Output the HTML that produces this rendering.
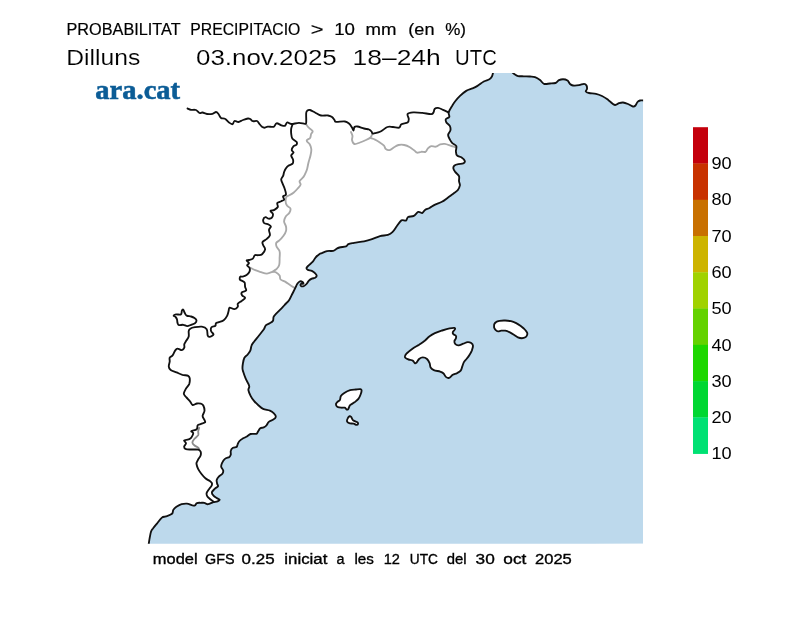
<!DOCTYPE html>
<html><head><meta charset="utf-8"><title>Probabilitat precipitacio</title>
<style>
html,body{margin:0;padding:0;background:#fff;}
body{width:800px;height:617px;overflow:hidden;font-family:"Liberation Sans",sans-serif;}
svg{display:block;will-change:transform;}
text{font-family:"Liberation Sans",sans-serif;fill:#000;}
</style></head><body>
<svg width="800" height="617" viewBox="0 0 800 617">
<rect width="800" height="617" fill="#fff"/>
<defs><clipPath id="mapclip"><rect x="100" y="73" width="543.1" height="470.75"/></clipPath></defs>
<g clip-path="url(#mapclip)">
<path d="M493.1,72.5 C492.9,73.2 492.5,75.4 491.9,76.5 C491.3,77.6 490.8,78.4 489.4,79.2 C488.0,80.1 485.7,80.4 483.8,81.5 C481.8,82.6 479.4,84.8 477.5,85.9 C475.6,87.1 474.4,87.6 472.5,88.4 C470.6,89.2 468.3,89.7 466.2,90.9 C464.2,92.2 461.9,94.1 460.0,95.9 C458.1,97.7 456.3,99.8 455.0,101.5 C453.7,103.2 453.2,104.0 452.2,105.8 C451.1,107.6 449.2,110.4 448.7,112.3 C448.2,114.2 449.8,115.8 449.3,116.9 C448.8,118.0 446.4,118.2 445.9,119.1 C445.4,120.0 445.8,121.4 446.4,122.5 C447.0,123.6 449.1,124.6 449.8,125.9 C450.5,127.2 450.7,128.9 450.4,130.4 C450.1,131.9 448.2,133.4 448.1,134.9 C448.0,136.4 449.1,138.0 449.8,139.4 C450.5,140.8 451.2,142.0 452.3,143.1 C453.4,144.2 455.7,144.8 456.3,146.2 C456.9,147.6 455.7,150.0 455.9,151.6 C456.0,153.2 456.2,154.6 457.2,155.6 C458.2,156.6 460.3,156.5 461.6,157.4 C462.9,158.3 464.5,159.9 464.8,160.9 C465.1,161.9 464.4,162.8 463.4,163.3 C462.3,163.9 460.0,163.8 458.5,164.1 C457.0,164.4 455.4,164.7 454.5,165.4 C453.6,166.1 453.2,167.4 453.4,168.5 C453.5,169.6 454.5,170.8 455.4,172.1 C456.3,173.4 458.4,174.6 459.0,176.1 C459.6,177.6 458.9,179.4 459.0,181.0 C459.1,182.6 460.1,183.9 459.9,185.4 C459.6,187.0 458.6,189.1 457.6,190.3 C456.6,191.6 455.1,192.2 454.1,193.0 C453.1,193.8 452.5,194.2 451.4,195.0 C450.3,195.8 449.1,196.8 447.5,197.9 C445.9,199.0 444.0,200.7 441.9,201.8 C439.8,202.9 437.2,203.6 435.1,204.6 C433.0,205.6 431.2,207.1 429.5,208.0 C427.8,208.9 426.2,209.2 425.0,210.0 C423.8,210.8 423.3,212.8 422.2,213.1 C421.1,213.4 419.7,211.4 418.2,211.9 C416.8,212.4 415.4,215.1 413.8,215.9 C412.1,216.8 409.4,216.2 408.1,217.0 C406.8,217.8 407.0,220.0 405.9,220.6 C404.8,221.2 402.9,219.5 401.4,220.4 C399.9,221.3 398.4,224.0 396.9,226.0 C395.4,228.0 393.9,230.7 392.4,232.2 C390.9,233.7 390.0,234.2 387.9,234.8 C385.8,235.5 382.6,235.4 380.0,236.1 C377.4,236.8 374.6,238.2 372.0,239.1 C369.4,240.0 367.1,240.7 364.1,241.3 C361.1,241.9 356.6,242.3 354.0,242.8 C351.4,243.3 349.7,243.5 348.4,244.1 C347.1,244.7 347.6,245.8 346.1,246.4 C344.6,247.0 341.1,247.0 339.4,247.5 C337.7,248.0 337.0,248.6 336.0,249.2 C335.0,249.8 334.7,250.6 333.2,250.9 C331.7,251.2 328.9,250.7 327.0,251.1 C325.1,251.5 323.1,252.6 321.9,253.1 C320.7,253.6 320.6,253.2 319.6,253.9 C318.6,254.6 316.8,256.0 315.7,257.3 C314.6,258.6 314.0,260.3 312.8,261.7 C311.6,263.1 309.4,264.6 308.4,265.6 C307.3,266.7 306.6,267.3 306.5,268.0 C306.4,268.7 307.0,269.4 307.9,269.9 C308.8,270.4 310.6,270.3 311.8,270.9 C313.0,271.5 314.4,272.5 315.2,273.3 C316.0,274.1 316.7,275.1 316.7,275.8 C316.7,276.5 316.0,277.2 315.2,277.7 C314.4,278.2 312.9,278.2 311.8,278.7 C310.8,279.2 309.8,279.7 308.9,280.6 C308.0,281.5 307.3,283.1 306.5,284.0 C305.7,284.9 304.8,285.6 304.0,286.0 C303.2,286.4 302.2,286.5 301.6,286.3 C301.0,286.1 300.4,285.4 300.4,285.0 C300.4,284.6 300.9,283.8 301.4,283.6 C301.9,283.4 303.2,284.1 303.4,283.8 C303.6,283.5 303.2,282.4 302.6,282.0 C302.0,281.6 300.9,281.1 300.0,281.3 C299.1,281.6 298.3,282.4 297.5,283.5 C296.7,284.6 296.1,286.2 295.3,287.9 C294.5,289.6 293.5,291.5 292.5,293.5 C291.5,295.5 290.4,298.2 289.2,300.0 C288.0,301.8 286.7,302.7 285.5,304.0 C284.3,305.3 283.6,306.2 282.0,307.8 C280.4,309.4 277.6,312.1 276.2,313.6 C274.8,315.1 274.1,315.7 273.6,316.9 C273.1,318.1 273.6,319.6 273.0,320.7 C272.4,321.8 270.9,322.5 269.7,323.3 C268.5,324.1 266.8,324.3 265.8,325.3 C264.8,326.3 265.0,327.6 263.9,329.2 C262.8,330.8 261.0,332.9 259.4,335.0 C257.8,337.1 255.5,339.8 254.2,341.5 C252.9,343.2 252.2,343.9 251.6,345.4 C250.9,346.9 251.0,349.1 250.3,350.6 C249.7,352.1 248.7,353.3 247.7,354.5 C246.7,355.7 245.2,356.2 244.4,357.7 C243.6,359.2 243.2,361.7 242.9,363.5 C242.6,365.3 242.4,367.3 242.5,368.7 C242.6,370.1 242.8,370.4 243.3,372.0 C243.8,373.6 244.7,376.2 245.5,378.2 C246.3,380.2 247.8,382.5 248.4,383.9 C249.0,385.3 249.3,385.7 249.3,386.8 C249.3,387.8 248.2,388.6 248.4,390.1 C248.6,391.7 249.7,394.0 250.6,395.8 C251.5,397.6 252.7,399.3 254.0,400.9 C255.3,402.5 257.1,404.2 258.6,405.5 C260.1,406.8 261.2,408.0 263.1,408.9 C265.0,409.8 268.1,409.9 269.9,410.6 C271.7,411.4 272.9,412.4 273.9,413.4 C274.9,414.4 275.9,415.8 275.8,416.8 C275.7,417.8 274.5,418.8 273.3,419.6 C272.1,420.5 269.9,421.0 268.8,421.9 C267.7,422.8 267.4,424.4 266.5,425.3 C265.6,426.2 264.7,426.9 263.7,427.4 C262.7,427.9 261.2,427.5 260.3,428.2 C259.4,428.9 258.7,430.7 258.0,431.6 C257.3,432.5 257.5,433.4 256.3,433.8 C255.1,434.2 252.3,433.5 250.6,434.0 C248.9,434.5 247.7,436.0 246.3,436.8 C244.9,437.6 243.5,438.1 242.4,438.8 C241.3,439.4 240.3,440.1 239.5,441.0 C238.7,441.9 238.0,443.3 237.6,444.3 C237.1,445.3 237.4,446.3 236.6,446.9 C235.8,447.4 234.0,447.2 233.0,447.8 C232.0,448.4 231.1,449.6 230.8,450.8 C230.4,451.9 231.0,453.6 230.8,454.6 C230.5,455.6 230.4,456.2 229.4,456.9 C228.5,457.6 226.1,457.8 224.9,458.9 C223.7,459.9 222.6,461.9 222.0,463.2 C221.4,464.5 221.0,465.7 221.2,466.9 C221.4,468.1 223.0,469.4 223.2,470.5 C223.4,471.6 223.1,472.8 222.4,473.8 C221.7,474.8 219.8,475.6 218.8,476.6 C217.9,477.6 217.0,478.8 216.7,479.9 C216.4,481.0 216.9,482.4 217.1,483.5 C217.3,484.6 218.4,485.4 218.0,486.3 C217.6,487.2 215.7,487.8 214.7,488.8 C213.7,489.8 212.1,491.2 211.9,492.4 C211.7,493.5 212.7,494.8 213.5,495.7 C214.3,496.6 215.7,497.4 216.7,498.1 C217.7,498.8 219.4,499.2 219.6,499.7 C219.8,500.2 218.6,500.9 217.6,501.3 C216.6,501.7 214.7,501.8 213.5,502.1 C212.3,502.5 211.4,503.0 210.3,503.4 C209.2,503.8 208.0,504.3 207.0,504.2 C206.0,504.1 205.4,503.0 204.3,502.8 C203.2,502.6 201.7,502.8 200.5,502.8 C199.3,502.8 197.9,502.6 196.9,503.1 C195.9,503.5 195.6,505.2 194.8,505.5 C193.9,505.8 193.0,505.4 191.7,505.1 C190.4,504.7 188.6,503.7 186.9,503.6 C185.2,503.5 183.3,503.7 181.6,504.2 C179.8,504.7 177.8,505.9 176.4,506.8 C175.0,507.8 174.0,508.7 173.3,509.9 C172.6,511.1 173.2,512.7 172.0,513.8 C170.8,514.9 167.6,515.8 165.9,516.4 C164.2,517.0 163.4,516.4 161.9,517.6 C160.4,518.8 158.6,521.5 157.1,523.4 C155.6,525.2 153.8,527.3 152.8,528.7 C151.7,530.1 151.5,530.2 151.0,531.8 C150.5,533.3 150.1,535.9 149.7,537.9 C149.3,539.9 149.0,542.2 148.8,543.5 C148.6,544.9 148.6,545.6 148.5,546.0 L643.1,543.75 L643.1,100.5 L646.0,100.5 C645.6,100.5 644.5,100.5 643.5,100.5 C642.5,100.5 641.0,100.2 640.0,100.5 C639.0,100.8 638.2,101.2 637.5,102.0 C636.8,102.8 636.2,104.8 635.5,105.5 C634.8,106.2 634.2,106.8 633.0,106.5 C631.8,106.2 629.7,104.7 628.0,104.0 C626.3,103.3 624.5,102.6 623.0,102.5 C621.5,102.4 620.3,102.8 619.0,103.2 C617.7,103.6 616.5,105.3 615.0,105.0 C613.5,104.7 611.3,102.5 610.0,101.5 C608.7,100.5 608.3,99.9 607.0,99.0 C605.7,98.1 603.8,96.9 602.0,96.0 C600.2,95.1 598.2,94.3 596.0,93.8 C593.8,93.3 590.7,93.4 589.0,93.0 C587.3,92.6 586.1,92.2 585.8,91.5 C585.5,90.8 586.9,90.0 587.0,89.0 C587.1,88.0 587.0,86.4 586.5,85.5 C586.0,84.6 585.2,83.8 584.0,83.8 C582.8,83.8 580.8,84.9 579.0,85.2 C577.2,85.5 574.5,85.7 573.0,85.5 C571.5,85.3 570.9,84.8 570.0,84.0 C569.1,83.2 568.7,81.3 567.5,80.5 C566.3,79.7 564.4,79.2 563.0,79.2 C561.6,79.2 560.2,79.6 559.0,80.2 C557.8,80.8 557.0,82.5 555.5,83.0 C554.0,83.5 551.9,83.4 550.0,83.5 C548.1,83.6 545.7,84.4 544.0,83.8 C542.3,83.2 541.5,81.1 540.0,80.0 C538.5,78.9 536.7,77.8 535.0,77.2 C533.3,76.6 531.9,76.7 530.0,76.5 C528.1,76.3 525.7,76.4 523.8,76.3 C521.8,76.2 519.6,76.4 518.1,76.1 C516.6,75.8 515.9,75.2 515.0,74.6 C514.1,74.0 512.9,72.8 512.5,72.5 L493.1,72.5 Z" fill="#bdd9ec"/>
<g fill="none" stroke="#a9a9a9" stroke-width="1.85" stroke-linejoin="round" stroke-linecap="round">
<path d="M306.2,124.3 C306.6,124.9 307.6,126.6 308.7,127.7 C309.8,128.8 312.2,130.0 312.6,131.1 C313.0,132.2 311.5,132.9 311.1,134.0 C310.7,135.1 310.8,136.8 310.1,137.9 C309.4,139.0 306.8,139.5 306.7,140.6 C306.6,141.7 308.9,142.9 309.7,144.3 C310.5,145.7 311.1,147.3 311.3,149.1 C311.5,150.9 311.0,152.9 310.6,155.0 C310.2,157.1 309.3,159.5 308.7,161.8 C308.1,164.1 307.6,166.9 307.2,168.6 C306.8,170.3 306.6,170.6 306.0,172.0 C305.4,173.4 304.6,175.4 303.5,176.9 C302.4,178.4 300.1,179.9 299.6,181.2 C299.2,182.5 300.9,183.4 300.6,184.6 C300.3,185.8 298.8,187.2 297.7,188.5 C296.6,189.8 295.2,191.3 293.8,192.4 C292.4,193.5 290.6,194.6 289.4,195.3 C288.2,196.0 287.1,195.8 286.5,196.8 C285.9,197.8 285.5,199.7 285.6,201.2 C285.6,202.7 286.2,204.3 287.0,205.6 C287.8,206.8 290.0,207.3 290.4,208.5 C290.8,209.7 290.2,211.4 289.4,212.8 C288.6,214.2 286.4,215.2 285.6,216.7 C284.7,218.2 284.0,220.0 284.1,221.6 C284.2,223.2 285.7,224.9 286.0,226.5 C286.3,228.1 286.4,229.4 286.0,230.9 C285.6,232.4 284.6,234.2 283.5,235.7 C282.4,237.2 280.9,238.9 279.6,240.1 C278.4,241.3 276.7,241.9 276.2,243.0 C275.8,244.1 276.1,245.5 276.7,246.9 C277.3,248.3 279.2,249.4 279.6,251.3 C280.1,253.2 279.7,255.8 279.6,258.1 C279.6,260.4 279.7,263.1 279.2,264.9 C278.7,266.7 277.8,267.7 276.7,268.8 C275.6,269.9 272.9,271.1 272.8,271.7 C272.7,272.3 274.7,271.5 275.8,272.2 C276.9,272.9 278.8,274.4 279.6,275.6 C280.4,276.8 279.6,278.4 280.6,279.5 C281.6,280.6 283.9,280.9 285.5,281.9 C287.1,282.9 288.8,284.3 290.4,285.3 C291.9,286.3 294.1,287.6 294.8,288.1"/>
<path d="M272.8,271.7 C271.8,272.0 268.9,273.6 267.0,273.6 C265.1,273.7 263.1,272.8 261.2,272.2 C259.2,271.6 257.1,271.0 255.3,270.2 C253.5,269.5 251.3,268.2 250.5,267.8"/>
<path d="M351.0,132.0 C351.2,132.7 352.3,134.7 352.5,136.0 C352.7,137.3 351.7,138.7 352.0,140.0 C352.3,141.3 353.2,143.6 354.5,144.0 C355.8,144.4 358.1,143.2 360.0,142.5 C361.9,141.8 364.2,140.8 366.0,140.0 C367.8,139.2 369.5,138.4 370.5,137.5 C371.5,136.6 371.8,135.0 372.0,134.5"/>
<path d="M370.5,138.0 C371.2,138.3 373.5,138.9 375.0,139.6 C376.5,140.3 378.0,141.2 379.5,142.2 C381.0,143.2 383.0,144.5 384.0,145.6 C385.0,146.7 384.8,148.2 385.7,148.9 C386.6,149.7 388.2,150.4 389.6,150.1 C391.0,149.8 392.6,148.1 394.1,147.2 C395.6,146.4 396.9,145.4 398.6,145.0 C400.3,144.6 402.4,144.6 404.2,145.0 C406.1,145.4 408.2,146.3 409.9,147.2 C411.6,148.2 413.2,149.7 414.4,150.6 C415.6,151.5 416.1,152.5 417.2,152.7 C418.3,152.8 419.7,151.9 421.1,151.8 C422.5,151.6 424.5,152.3 425.6,151.8 C426.7,151.2 427.0,149.3 427.9,148.4 C428.8,147.5 429.9,146.4 431.2,146.1 C432.6,145.8 434.2,147.0 435.8,146.7 C437.2,146.4 438.8,144.9 440.2,144.4 C441.8,143.9 443.1,143.7 444.8,143.9 C446.4,144.1 448.6,145.0 450.4,145.6 C452.2,146.2 454.6,147.0 455.4,147.2"/>
<path d="M199.2,427.8 C199.0,428.4 198.4,430.0 198.2,431.2 C198.0,432.4 198.8,433.8 198.2,435.1 C197.5,436.4 195.3,437.8 194.3,439.0 C193.3,440.2 192.4,441.3 192.4,442.4 C192.4,443.4 193.3,444.4 194.3,445.3 C195.3,446.2 197.4,447.0 198.2,447.7 C199.0,448.4 199.0,449.2 199.2,449.5" stroke="#8c8c8c"/>
</g>
<g fill="none" stroke="#111" stroke-width="1.85" stroke-linejoin="round" stroke-linecap="round">
<path d="M493.1,72.5 C492.9,73.2 492.5,75.4 491.9,76.5 C491.3,77.6 490.8,78.4 489.4,79.2 C488.0,80.1 485.7,80.4 483.8,81.5 C481.8,82.6 479.4,84.8 477.5,85.9 C475.6,87.1 474.4,87.6 472.5,88.4 C470.6,89.2 468.3,89.7 466.2,90.9 C464.2,92.2 461.9,94.1 460.0,95.9 C458.1,97.7 456.3,99.8 455.0,101.5 C453.7,103.2 453.2,104.0 452.2,105.8 C451.1,107.6 449.2,110.4 448.7,112.3 C448.2,114.2 449.8,115.8 449.3,116.9 C448.8,118.0 446.4,118.2 445.9,119.1 C445.4,120.0 445.8,121.4 446.4,122.5 C447.0,123.6 449.1,124.6 449.8,125.9 C450.5,127.2 450.7,128.9 450.4,130.4 C450.1,131.9 448.2,133.4 448.1,134.9 C448.0,136.4 449.1,138.0 449.8,139.4 C450.5,140.8 451.2,142.0 452.3,143.1 C453.4,144.2 455.7,144.8 456.3,146.2 C456.9,147.6 455.7,150.0 455.9,151.6 C456.0,153.2 456.2,154.6 457.2,155.6 C458.2,156.6 460.3,156.5 461.6,157.4 C462.9,158.3 464.5,159.9 464.8,160.9 C465.1,161.9 464.4,162.8 463.4,163.3 C462.3,163.9 460.0,163.8 458.5,164.1 C457.0,164.4 455.4,164.7 454.5,165.4 C453.6,166.1 453.2,167.4 453.4,168.5 C453.5,169.6 454.5,170.8 455.4,172.1 C456.3,173.4 458.4,174.6 459.0,176.1 C459.6,177.6 458.9,179.4 459.0,181.0 C459.1,182.6 460.1,183.9 459.9,185.4 C459.6,187.0 458.6,189.1 457.6,190.3 C456.6,191.6 455.1,192.2 454.1,193.0 C453.1,193.8 452.5,194.2 451.4,195.0 C450.3,195.8 449.1,196.8 447.5,197.9 C445.9,199.0 444.0,200.7 441.9,201.8 C439.8,202.9 437.2,203.6 435.1,204.6 C433.0,205.6 431.2,207.1 429.5,208.0 C427.8,208.9 426.2,209.2 425.0,210.0 C423.8,210.8 423.3,212.8 422.2,213.1 C421.1,213.4 419.7,211.4 418.2,211.9 C416.8,212.4 415.4,215.1 413.8,215.9 C412.1,216.8 409.4,216.2 408.1,217.0 C406.8,217.8 407.0,220.0 405.9,220.6 C404.8,221.2 402.9,219.5 401.4,220.4 C399.9,221.3 398.4,224.0 396.9,226.0 C395.4,228.0 393.9,230.7 392.4,232.2 C390.9,233.7 390.0,234.2 387.9,234.8 C385.8,235.5 382.6,235.4 380.0,236.1 C377.4,236.8 374.6,238.2 372.0,239.1 C369.4,240.0 367.1,240.7 364.1,241.3 C361.1,241.9 356.6,242.3 354.0,242.8 C351.4,243.3 349.7,243.5 348.4,244.1 C347.1,244.7 347.6,245.8 346.1,246.4 C344.6,247.0 341.1,247.0 339.4,247.5 C337.7,248.0 337.0,248.6 336.0,249.2 C335.0,249.8 334.7,250.6 333.2,250.9 C331.7,251.2 328.9,250.7 327.0,251.1 C325.1,251.5 323.1,252.6 321.9,253.1 C320.7,253.6 320.6,253.2 319.6,253.9 C318.6,254.6 316.8,256.0 315.7,257.3 C314.6,258.6 314.0,260.3 312.8,261.7 C311.6,263.1 309.4,264.6 308.4,265.6 C307.3,266.7 306.6,267.3 306.5,268.0 C306.4,268.7 307.0,269.4 307.9,269.9 C308.8,270.4 310.6,270.3 311.8,270.9 C313.0,271.5 314.4,272.5 315.2,273.3 C316.0,274.1 316.7,275.1 316.7,275.8 C316.7,276.5 316.0,277.2 315.2,277.7 C314.4,278.2 312.9,278.2 311.8,278.7 C310.8,279.2 309.8,279.7 308.9,280.6 C308.0,281.5 307.3,283.1 306.5,284.0 C305.7,284.9 304.8,285.6 304.0,286.0 C303.2,286.4 302.2,286.5 301.6,286.3 C301.0,286.1 300.4,285.4 300.4,285.0 C300.4,284.6 300.9,283.8 301.4,283.6 C301.9,283.4 303.2,284.1 303.4,283.8 C303.6,283.5 303.2,282.4 302.6,282.0 C302.0,281.6 300.9,281.1 300.0,281.3 C299.1,281.6 298.3,282.4 297.5,283.5 C296.7,284.6 296.1,286.2 295.3,287.9 C294.5,289.6 293.5,291.5 292.5,293.5 C291.5,295.5 290.4,298.2 289.2,300.0 C288.0,301.8 286.7,302.7 285.5,304.0 C284.3,305.3 283.6,306.2 282.0,307.8 C280.4,309.4 277.6,312.1 276.2,313.6 C274.8,315.1 274.1,315.7 273.6,316.9 C273.1,318.1 273.6,319.6 273.0,320.7 C272.4,321.8 270.9,322.5 269.7,323.3 C268.5,324.1 266.8,324.3 265.8,325.3 C264.8,326.3 265.0,327.6 263.9,329.2 C262.8,330.8 261.0,332.9 259.4,335.0 C257.8,337.1 255.5,339.8 254.2,341.5 C252.9,343.2 252.2,343.9 251.6,345.4 C250.9,346.9 251.0,349.1 250.3,350.6 C249.7,352.1 248.7,353.3 247.7,354.5 C246.7,355.7 245.2,356.2 244.4,357.7 C243.6,359.2 243.2,361.7 242.9,363.5 C242.6,365.3 242.4,367.3 242.5,368.7 C242.6,370.1 242.8,370.4 243.3,372.0 C243.8,373.6 244.7,376.2 245.5,378.2 C246.3,380.2 247.8,382.5 248.4,383.9 C249.0,385.3 249.3,385.7 249.3,386.8 C249.3,387.8 248.2,388.6 248.4,390.1 C248.6,391.7 249.7,394.0 250.6,395.8 C251.5,397.6 252.7,399.3 254.0,400.9 C255.3,402.5 257.1,404.2 258.6,405.5 C260.1,406.8 261.2,408.0 263.1,408.9 C265.0,409.8 268.1,409.9 269.9,410.6 C271.7,411.4 272.9,412.4 273.9,413.4 C274.9,414.4 275.9,415.8 275.8,416.8 C275.7,417.8 274.5,418.8 273.3,419.6 C272.1,420.5 269.9,421.0 268.8,421.9 C267.7,422.8 267.4,424.4 266.5,425.3 C265.6,426.2 264.7,426.9 263.7,427.4 C262.7,427.9 261.2,427.5 260.3,428.2 C259.4,428.9 258.7,430.7 258.0,431.6 C257.3,432.5 257.5,433.4 256.3,433.8 C255.1,434.2 252.3,433.5 250.6,434.0 C248.9,434.5 247.7,436.0 246.3,436.8 C244.9,437.6 243.5,438.1 242.4,438.8 C241.3,439.4 240.3,440.1 239.5,441.0 C238.7,441.9 238.0,443.3 237.6,444.3 C237.1,445.3 237.4,446.3 236.6,446.9 C235.8,447.4 234.0,447.2 233.0,447.8 C232.0,448.4 231.1,449.6 230.8,450.8 C230.4,451.9 231.0,453.6 230.8,454.6 C230.5,455.6 230.4,456.2 229.4,456.9 C228.5,457.6 226.1,457.8 224.9,458.9 C223.7,459.9 222.6,461.9 222.0,463.2 C221.4,464.5 221.0,465.7 221.2,466.9 C221.4,468.1 223.0,469.4 223.2,470.5 C223.4,471.6 223.1,472.8 222.4,473.8 C221.7,474.8 219.8,475.6 218.8,476.6 C217.9,477.6 217.0,478.8 216.7,479.9 C216.4,481.0 216.9,482.4 217.1,483.5 C217.3,484.6 218.4,485.4 218.0,486.3 C217.6,487.2 215.7,487.8 214.7,488.8 C213.7,489.8 212.1,491.2 211.9,492.4 C211.7,493.5 212.7,494.8 213.5,495.7 C214.3,496.6 215.7,497.4 216.7,498.1 C217.7,498.8 219.4,499.2 219.6,499.7 C219.8,500.2 218.6,500.9 217.6,501.3 C216.6,501.7 214.7,501.8 213.5,502.1 C212.3,502.5 211.4,503.0 210.3,503.4 C209.2,503.8 208.0,504.3 207.0,504.2 C206.0,504.1 205.4,503.0 204.3,502.8 C203.2,502.6 201.7,502.8 200.5,502.8 C199.3,502.8 197.9,502.6 196.9,503.1 C195.9,503.5 195.6,505.2 194.8,505.5 C193.9,505.8 193.0,505.4 191.7,505.1 C190.4,504.7 188.6,503.7 186.9,503.6 C185.2,503.5 183.3,503.7 181.6,504.2 C179.8,504.7 177.8,505.9 176.4,506.8 C175.0,507.8 174.0,508.7 173.3,509.9 C172.6,511.1 173.2,512.7 172.0,513.8 C170.8,514.9 167.6,515.8 165.9,516.4 C164.2,517.0 163.4,516.4 161.9,517.6 C160.4,518.8 158.6,521.5 157.1,523.4 C155.6,525.2 153.8,527.3 152.8,528.7 C151.7,530.1 151.5,530.2 151.0,531.8 C150.5,533.3 150.1,535.9 149.7,537.9 C149.3,539.9 149.0,542.2 148.8,543.5 C148.6,544.9 148.6,545.6 148.5,546.0"/>
<path d="M512.5,72.5 C512.9,72.8 514.1,74.0 515.0,74.6 C515.9,75.2 516.6,75.8 518.1,76.1 C519.6,76.4 521.8,76.2 523.8,76.3 C525.7,76.4 528.1,76.3 530.0,76.5 C531.9,76.7 533.3,76.6 535.0,77.2 C536.7,77.8 538.5,78.9 540.0,80.0 C541.5,81.1 542.3,83.2 544.0,83.8 C545.7,84.4 548.1,83.6 550.0,83.5 C551.9,83.4 554.0,83.5 555.5,83.0 C557.0,82.5 557.8,80.8 559.0,80.2 C560.2,79.6 561.6,79.2 563.0,79.2 C564.4,79.2 566.3,79.7 567.5,80.5 C568.7,81.3 569.1,83.2 570.0,84.0 C570.9,84.8 571.5,85.3 573.0,85.5 C574.5,85.7 577.2,85.5 579.0,85.2 C580.8,84.9 582.8,83.8 584.0,83.8 C585.2,83.8 586.0,84.6 586.5,85.5 C587.0,86.4 587.1,88.0 587.0,89.0 C586.9,90.0 585.5,90.8 585.8,91.5 C586.1,92.2 587.3,92.6 589.0,93.0 C590.7,93.4 593.8,93.3 596.0,93.8 C598.2,94.3 600.2,95.1 602.0,96.0 C603.8,96.9 605.7,98.1 607.0,99.0 C608.3,99.9 608.7,100.5 610.0,101.5 C611.3,102.5 613.5,104.7 615.0,105.0 C616.5,105.3 617.7,103.6 619.0,103.2 C620.3,102.8 621.5,102.4 623.0,102.5 C624.5,102.6 626.3,103.3 628.0,104.0 C629.7,104.7 631.8,106.2 633.0,106.5 C634.2,106.8 634.8,106.2 635.5,105.5 C636.2,104.8 636.8,102.8 637.5,102.0 C638.2,101.2 639.0,100.8 640.0,100.5 C641.0,100.2 642.5,100.5 643.5,100.5 C644.5,100.5 645.6,100.5 646.0,100.5"/>
<path d="M187.5,108.5 C188.1,108.7 189.6,109.5 191.0,109.8 C192.4,110.0 194.6,109.5 196.0,110.0 C197.4,110.5 198.4,112.6 199.5,113.0 C200.6,113.4 201.2,112.3 202.5,112.5 C203.8,112.7 205.3,113.8 207.0,114.0 C208.7,114.2 211.0,114.1 212.5,113.8 C214.0,113.5 215.0,112.0 216.0,112.0 C217.0,112.0 217.7,113.0 218.5,114.0 C219.3,115.0 219.9,117.2 221.0,118.0 C222.1,118.8 223.7,118.0 225.0,118.8 C226.3,119.5 227.8,121.6 229.0,122.5 C230.2,123.4 231.6,124.5 232.5,124.2 C233.4,124.0 233.5,121.4 234.5,121.0 C235.5,120.6 237.1,122.2 238.5,122.0 C239.9,121.8 241.4,120.6 243.0,120.0 C244.6,119.4 246.8,118.6 248.0,118.5 C249.2,118.4 249.7,118.8 250.5,119.2 C251.3,119.7 251.9,120.9 253.0,121.2 C254.1,121.5 255.9,120.5 257.0,121.0 C258.1,121.5 258.7,123.0 259.5,124.0 C260.3,125.0 261.2,126.1 262.0,126.8 C262.8,127.4 263.4,127.7 264.4,127.7 C265.4,127.7 266.2,126.8 267.8,126.6 C269.4,126.4 272.2,127.3 273.7,126.8 C275.2,126.2 275.3,123.5 276.6,123.3 C277.9,123.1 280.0,124.9 281.4,125.3 C282.8,125.7 283.9,126.3 284.9,125.8 C285.9,125.3 286.2,122.7 287.3,122.4 C288.4,122.1 289.2,123.9 291.2,124.0 C293.1,124.1 296.7,122.9 299.0,122.9 C301.3,122.9 303.8,123.9 305.0,123.8 C306.2,123.7 306.0,124.3 306.2,122.5 C306.4,120.7 306.0,115.0 306.2,113.0 C306.4,111.0 306.9,111.0 307.5,110.5 C308.1,110.0 308.8,109.7 310.0,110.0 C311.2,110.3 313.2,111.6 315.0,112.5 C316.8,113.4 318.8,115.0 321.0,115.5 C323.2,116.0 326.2,115.2 328.0,115.5 C329.8,115.8 330.9,116.2 332.0,117.0 C333.1,117.8 333.8,119.2 334.5,120.0 C335.2,120.8 334.2,121.5 336.0,121.8 C337.8,122.0 342.8,121.2 345.0,121.5 C347.2,121.8 347.8,122.5 349.0,123.5 C350.2,124.5 351.2,126.3 352.0,127.5 C352.8,128.7 353.1,130.6 353.5,130.5 C353.9,130.4 353.8,127.7 354.5,127.0 C355.2,126.3 355.9,126.2 357.5,126.5 C359.1,126.8 362.1,128.0 364.0,128.5 C365.9,129.0 367.8,129.0 369.0,129.5 C370.2,130.0 370.9,130.8 371.5,131.5 C372.1,132.2 371.9,133.2 372.5,133.5 C373.1,133.8 373.6,133.5 375.0,133.2 C376.4,132.9 378.5,132.5 380.6,131.5 C382.7,130.5 385.3,127.8 387.4,127.0 C389.5,126.2 391.0,126.9 393.0,127.0 C395.0,127.1 397.8,128.1 399.2,127.6 C400.6,127.1 400.0,125.0 401.4,124.2 C402.8,123.4 406.4,123.3 407.6,122.5 C408.8,121.7 408.8,120.5 408.8,119.1 C408.8,117.7 406.9,115.2 407.6,114.1 C408.4,113.0 410.8,112.6 413.2,112.4 C415.7,112.2 419.2,112.6 422.2,112.9 C425.2,113.2 429.4,114.2 431.2,114.1 C433.1,114.0 432.9,113.2 433.5,112.4 C434.1,111.6 433.9,109.8 434.6,109.0 C435.4,108.2 436.7,107.8 438.0,107.9 C439.3,108.0 440.8,108.8 442.5,109.6 C444.2,110.3 447.4,111.9 448.4,112.4"/>
<path d="M292.6,124.3 C292.4,125.0 291.4,127.1 291.2,128.7 C291.0,130.2 291.0,132.0 291.2,133.6 C291.4,135.2 291.4,137.0 292.3,138.4 C293.2,139.8 295.8,140.8 296.5,141.8 C297.2,142.9 297.0,144.0 296.5,144.7 C296.0,145.4 294.4,145.3 293.6,146.2 C292.8,147.1 291.7,149.0 291.7,150.1 C291.7,151.2 293.7,151.6 293.6,152.5 C293.5,153.4 291.3,154.2 291.2,155.4 C291.1,156.6 292.9,158.4 293.1,159.8 C293.3,161.2 293.4,162.7 292.6,163.7 C291.8,164.7 289.4,164.8 288.3,165.7 C287.2,166.5 286.5,167.5 285.8,168.6 C285.1,169.7 284.6,170.8 284.1,172.0 C283.7,173.2 283.6,174.7 283.1,175.9 C282.6,177.1 281.3,178.0 281.2,179.3 C281.1,180.6 282.0,182.2 282.6,183.7 C283.2,185.2 284.0,186.7 284.6,188.5 C285.2,190.3 286.2,193.1 286.0,194.4 C285.8,195.7 283.4,195.4 283.1,196.3 C282.8,197.2 284.4,198.9 284.1,199.7 C283.8,200.5 282.3,200.6 281.2,201.2 C280.1,201.8 277.9,202.1 277.3,203.1 C276.7,204.1 278.3,205.9 277.8,207.0 C277.3,208.1 275.6,209.2 274.4,209.9 C273.2,210.6 270.8,210.2 270.5,210.9 C270.2,211.6 272.7,212.7 272.9,213.8 C273.1,214.9 272.6,216.9 271.9,217.7 C271.2,218.5 269.6,218.8 268.5,218.7 C267.4,218.6 266.5,217.0 265.6,217.2 C264.7,217.4 263.4,218.7 263.2,219.7 C263.0,220.6 263.3,222.2 264.2,223.1 C265.1,223.9 267.4,223.9 268.5,224.5 C269.6,225.1 270.8,225.6 270.9,226.5 C271.0,227.4 269.2,228.5 269.0,229.9 C268.8,231.3 270.3,233.7 269.9,235.2 C269.5,236.7 267.7,238.0 266.5,239.1 C265.3,240.2 263.2,241.0 262.6,242.0 C262.0,243.0 262.7,243.8 263.1,245.0 C263.5,246.2 265.3,247.8 265.1,249.3 C264.9,250.8 263.2,253.2 262.1,254.2 C261.0,255.2 259.5,255.0 258.3,255.2 C257.1,255.4 255.8,254.6 254.8,255.2 C253.9,255.8 253.9,257.8 252.9,258.6 C251.9,259.4 250.1,259.7 249.0,260.0 C247.9,260.3 246.6,260.0 246.6,260.5 C246.6,261.0 248.9,262.2 249.0,263.0 C249.1,263.8 247.0,264.6 247.1,265.4 C247.2,266.2 249.1,266.8 249.5,267.8 C249.9,268.9 250.0,270.5 249.5,271.7 C249.0,272.9 247.7,274.3 246.6,275.1 C245.5,275.9 243.8,276.4 242.7,276.6 C241.6,276.9 240.8,276.1 240.3,276.6 C239.8,277.1 239.7,278.9 239.8,279.5 C240.0,280.1 240.4,279.9 241.2,280.4 C242.0,280.9 243.9,281.3 244.6,282.4 C245.2,283.5 244.8,285.4 245.1,286.8 C245.3,288.1 246.7,289.6 246.1,290.6 C245.5,291.6 242.3,291.8 241.7,292.6 C241.0,293.4 241.6,294.6 242.2,295.5 C242.8,296.4 245.2,297.0 245.1,297.9 C245.0,298.8 242.9,299.9 241.7,300.9 C240.5,301.8 238.5,302.8 237.8,303.8 C237.2,304.8 238.4,305.8 237.8,306.7 C237.2,307.6 235.8,308.9 234.4,309.1 C233.0,309.3 230.5,307.3 229.6,307.6 C228.6,308.0 229.0,309.7 228.6,311.1 C228.2,312.5 227.9,314.4 227.1,315.9 C226.3,317.4 225.1,319.2 223.7,320.3 C222.3,321.4 220.1,321.8 218.8,322.2 C217.6,322.8 216.5,322.7 215.9,323.3 C215.3,323.9 216.1,325.2 215.4,325.8 C214.7,326.4 212.2,326.3 211.5,327.2 C210.8,328.1 210.7,329.9 211.1,331.1 C211.4,332.3 213.7,333.5 213.5,334.5 C213.3,335.5 210.6,336.8 209.6,336.9 C208.6,337.1 208.1,336.8 207.7,335.5 C207.2,334.2 207.7,330.7 206.7,329.2 C205.7,327.7 203.8,327.0 201.8,326.7 C199.9,326.4 196.9,326.9 195.0,327.2 C193.1,327.5 191.2,328.0 190.2,328.7 C189.1,329.4 188.9,329.8 188.7,331.1 C188.5,332.4 189.1,334.9 188.7,336.5 C188.3,338.1 187.0,339.5 186.2,340.8 C185.5,342.1 184.6,343.1 184.3,344.2 C184.0,345.4 184.7,346.7 184.3,347.6 C183.9,348.6 183.0,349.9 181.9,350.1 C180.8,350.3 178.6,348.5 177.5,348.6 C176.4,348.7 175.9,349.5 175.1,350.6 C174.3,351.7 173.5,354.2 172.6,355.4 C171.7,356.6 170.2,356.6 169.7,357.6 C169.2,358.7 169.9,360.2 169.7,361.7 C169.5,363.2 168.6,365.2 168.8,366.6 C168.9,368.0 169.4,369.0 170.7,370.0 C172.0,371.0 174.6,371.6 176.5,372.4 C178.4,373.2 180.5,374.3 182.4,374.9 C184.3,375.4 187.0,375.2 188.2,375.8 C189.4,376.4 189.5,376.9 189.7,378.2 C189.9,379.6 189.8,382.3 189.2,384.1 C188.5,385.9 186.7,387.3 185.8,388.9 C184.9,390.6 183.7,392.4 183.8,393.8 C183.9,395.2 185.2,395.9 186.2,397.2 C187.3,398.5 189.1,400.3 190.2,401.6 C191.2,402.9 191.5,404.7 192.6,405.0 C193.7,405.3 195.6,403.7 196.9,403.5 C198.3,403.3 199.7,403.4 200.8,403.7 C201.9,404.0 202.7,404.3 203.3,405.5 C203.9,406.7 204.6,409.0 204.5,410.8 C204.4,412.5 202.6,414.6 202.6,416.1 C202.6,417.6 204.1,418.9 204.5,420.0 C204.9,421.1 205.6,421.8 205.0,422.4 C204.4,423.0 202.3,423.4 201.1,423.9 C199.9,424.4 198.4,424.4 197.7,425.3 C197.0,426.2 197.8,428.2 196.7,429.2 C195.6,430.2 192.0,430.5 191.4,431.2 C190.8,431.9 193.3,432.1 193.3,433.1 C193.3,434.2 192.2,436.4 191.4,437.5 C190.6,438.6 189.7,438.9 188.5,439.4 C187.3,439.9 184.5,439.8 184.1,440.4 C183.7,441.0 186.0,442.2 186.0,443.3 C186.0,444.4 184.1,445.7 184.1,446.7 C184.1,447.7 184.6,448.7 186.0,449.2 C187.4,449.7 190.4,449.4 192.4,449.5 C194.4,449.6 196.8,449.3 198.2,449.6 C199.6,450.0 200.2,450.6 200.6,451.6 C201.0,452.6 201.0,454.2 200.6,455.5 C200.2,456.8 198.8,458.3 198.2,459.4 C197.6,460.5 197.2,461.2 196.9,462.0 C196.6,462.8 196.3,462.9 196.5,464.0 C196.7,465.1 197.3,467.3 198.1,468.9 C198.9,470.5 200.1,472.2 201.3,473.8 C202.5,475.4 204.0,477.0 205.4,478.2 C206.8,479.4 208.8,480.3 209.9,481.1 C211.0,481.9 211.6,482.3 211.9,483.1 C212.2,483.9 212.0,484.9 211.5,485.9 C211.0,486.9 209.8,488.0 209.0,489.2 C208.2,490.4 206.9,492.0 206.6,493.2 C206.3,494.4 206.8,495.5 207.4,496.5 C208.0,497.5 209.3,498.4 210.3,499.3 C211.3,500.2 213.0,501.3 213.5,501.7"/>
<path d="M173.6,315.6 C173.7,315.2 174.8,314.6 176.0,314.4 C177.2,314.2 179.9,315.0 180.9,314.4 C181.9,313.8 181.5,311.5 181.9,310.7 C182.3,309.9 182.8,309.3 183.3,309.7 C183.8,310.1 184.2,312.1 184.8,313.1 C185.4,314.1 185.6,315.0 186.7,315.6 C187.8,316.2 189.8,316.1 191.1,316.5 C192.4,316.9 193.6,317.4 194.5,318.0 C195.4,318.6 196.4,319.5 196.5,320.4 C196.6,321.3 195.9,322.6 195.0,323.3 C194.1,324.0 192.4,324.3 191.1,324.8 C189.8,325.3 188.5,326.1 187.2,326.1 C185.9,326.1 184.7,325.0 183.3,324.8 C181.9,324.6 180.0,325.4 179.0,325.1 C178.0,324.8 177.8,323.8 177.5,322.9 C177.2,321.9 177.3,320.4 177.0,319.4 C176.7,318.5 176.2,317.6 175.6,317.0 C175.0,316.4 173.5,316.0 173.6,315.6 Z"/>
</g>
<g fill="#fff" stroke="#111" stroke-width="1.85" stroke-linejoin="round">
<path d="M404.9,356.4 C405.1,355.6 405.6,354.5 406.9,353.2 C408.3,351.9 410.7,349.9 412.8,348.4 C414.8,347.0 417.2,346.0 419.1,344.8 C421.0,343.5 422.6,342.5 424.4,341.1 C426.1,339.7 427.8,337.6 429.6,336.3 C431.4,335.0 432.8,334.2 434.9,333.2 C437.0,332.2 439.8,331.3 442.2,330.5 C444.7,329.7 447.6,328.8 449.6,328.4 C451.6,328.0 453.5,327.7 454.4,327.9 C455.3,328.1 455.2,328.8 454.9,329.5 C454.6,330.2 453.1,331.3 452.8,332.1 C452.5,332.9 452.8,333.6 453.3,334.2 C453.8,334.8 455.5,335.1 455.9,335.8 C456.4,336.5 456.2,337.5 455.9,338.4 C455.7,339.3 454.5,340.1 454.4,341.1 C454.3,342.1 454.7,343.5 455.4,344.2 C456.1,344.9 457.3,345.4 458.6,345.3 C459.9,345.2 461.8,344.2 463.3,343.7 C464.8,343.2 466.2,342.2 467.6,342.1 C468.9,342.0 470.3,342.4 471.2,343.0 C472.1,343.6 472.9,344.5 473.0,345.8 C473.1,347.1 472.3,349.1 471.8,350.6 C471.2,352.1 470.5,353.4 469.6,354.8 C468.8,356.2 467.5,357.8 466.5,359.0 C465.5,360.2 464.6,360.9 463.9,362.1 C463.2,363.4 462.8,364.9 462.3,366.4 C461.8,367.8 461.6,369.5 460.7,370.6 C459.8,371.7 458.3,372.5 457.0,373.2 C455.7,373.9 454.1,374.0 452.8,374.8 C451.5,375.6 450.2,377.6 449.1,377.9 C448.0,378.3 446.9,377.7 445.9,376.9 C445.0,376.1 444.3,374.1 443.3,373.2 C442.3,372.3 441.7,372.1 440.1,371.6 C438.6,371.1 435.4,370.8 433.8,370.1 C432.2,369.4 431.3,368.5 430.6,367.4 C429.9,366.3 430.2,364.6 429.6,363.2 C429.0,361.8 428.1,360.0 427.0,359.0 C425.9,358.0 424.1,357.4 422.8,357.4 C421.4,357.4 420.2,358.1 419.1,359.0 C418.1,359.9 417.2,362.0 416.4,362.7 C415.7,363.4 415.5,363.6 414.9,363.2 C414.2,362.8 413.8,361.2 412.8,360.6 C411.7,359.9 409.8,359.9 408.6,359.5 C407.3,359.1 406.0,358.4 405.4,357.9 C404.8,357.4 404.6,357.1 404.9,356.4 Z"/>
<path d="M494.1,326.4 C494.1,325.8 494.0,324.8 494.3,324.1 C494.6,323.4 495.2,322.6 496.1,322.1 C496.9,321.5 498.0,321.2 499.5,320.9 C501.0,320.6 503.3,320.4 505.2,320.5 C507.2,320.6 509.2,320.8 511.0,321.2 C512.8,321.6 514.6,322.4 516.2,323.2 C517.8,324.0 519.4,325.1 520.8,326.1 C522.2,327.2 523.8,328.4 524.8,329.5 C525.8,330.6 526.7,331.8 527.1,332.7 C527.5,333.6 527.4,334.2 527.1,335.0 C526.8,335.8 526.3,336.8 525.4,337.3 C524.5,337.8 523.1,338.2 521.9,338.2 C520.6,338.2 519.2,337.9 517.9,337.3 C516.6,336.7 515.2,335.5 513.9,334.7 C512.6,333.9 511.3,333.1 509.9,332.4 C508.4,331.7 506.7,331.0 505.2,330.7 C503.8,330.4 502.4,330.6 501.2,330.7 C500.0,330.8 499.0,331.5 498.1,331.4 C497.1,331.2 496.1,330.4 495.5,329.8 C494.9,329.2 494.4,328.4 494.2,327.8 C494.0,327.2 494.0,327.0 494.1,326.4 Z"/>
<path d="M336.1,403.8 C336.2,403.2 336.9,402.5 337.5,401.8 C338.1,401.1 339.3,400.9 339.9,399.9 C340.5,398.9 340.2,397.1 340.9,396.0 C341.6,394.9 342.8,394.1 344.3,393.1 C345.8,392.1 348.2,390.8 350.1,390.2 C352.1,389.6 354.3,389.7 356.0,389.5 C357.7,389.3 359.5,389.0 360.4,389.2 C361.3,389.4 361.6,389.7 361.6,390.6 C361.6,391.5 361.2,393.1 360.6,394.5 C360.1,395.9 359.4,397.6 358.4,398.9 C357.4,400.2 355.9,401.2 354.5,402.3 C353.1,403.4 351.2,404.1 350.1,405.2 C349.1,406.3 348.8,408.4 348.2,409.1 C347.6,409.8 347.3,409.8 346.7,409.6 C346.1,409.4 345.7,408.0 344.8,407.7 C343.9,407.4 342.5,407.8 341.4,407.7 C340.3,407.6 338.9,407.5 338.0,407.2 C337.1,406.9 336.6,406.3 336.3,405.7 C336.0,405.1 335.9,404.4 336.1,403.8 Z"/>
<path d="M349.7,416.1 C350.3,415.9 350.5,416.2 351.1,416.9 C351.7,417.6 352.1,419.4 353.1,420.3 C354.2,421.2 356.6,421.7 357.4,422.2 C358.2,422.8 358.2,423.3 358.1,423.7 C358.0,424.1 357.3,424.9 356.5,424.9 C355.7,424.9 354.8,424.0 353.6,423.7 C352.3,423.4 350.3,423.6 349.2,423.2 C348.1,422.8 347.2,422.1 347.0,421.3 C346.8,420.5 347.2,419.3 347.7,418.4 C348.1,417.5 349.1,416.4 349.7,416.1 Z"/>
</g>
</g>
<rect x="693" y="127.20" width="15" height="36.57" fill="#c4000c"/>
<rect x="693" y="163.47" width="15" height="36.57" fill="#c83200"/>
<rect x="693" y="199.74" width="15" height="36.57" fill="#c87000"/>
<rect x="693" y="236.01" width="15" height="36.57" fill="#cdb400"/>
<rect x="693" y="272.28" width="15" height="36.57" fill="#a0d200"/>
<rect x="693" y="308.55" width="15" height="36.57" fill="#64d200"/>
<rect x="693" y="344.82" width="15" height="36.57" fill="#1ed700"/>
<rect x="693" y="381.09" width="15" height="36.57" fill="#00d732"/>
<rect x="693" y="417.36" width="15" height="36.57" fill="#00e173"/>

<text x="711.4" y="169.2" font-size="16.1" textLength="20.2" lengthAdjust="spacingAndGlyphs">90</text>
<text x="711.4" y="205.4" font-size="16.1" textLength="20.2" lengthAdjust="spacingAndGlyphs">80</text>
<text x="711.4" y="241.7" font-size="16.1" textLength="20.2" lengthAdjust="spacingAndGlyphs">70</text>
<text x="711.4" y="278.0" font-size="16.1" textLength="20.2" lengthAdjust="spacingAndGlyphs">60</text>
<text x="711.4" y="314.2" font-size="16.1" textLength="20.2" lengthAdjust="spacingAndGlyphs">50</text>
<text x="711.4" y="350.5" font-size="16.1" textLength="20.2" lengthAdjust="spacingAndGlyphs">40</text>
<text x="711.4" y="386.8" font-size="16.1" textLength="20.2" lengthAdjust="spacingAndGlyphs">30</text>
<text x="711.4" y="423.1" font-size="16.1" textLength="20.2" lengthAdjust="spacingAndGlyphs">20</text>
<text x="711.4" y="459.3" font-size="16.1" textLength="20.2" lengthAdjust="spacingAndGlyphs">10</text>

<g stroke="#000" stroke-width="0.2"><text x="66.5" y="34.75" font-size="16.7" textLength="114.1" lengthAdjust="spacingAndGlyphs" >PROBABILITAT</text>
<text x="190.3" y="34.75" font-size="16.7" textLength="110.1" lengthAdjust="spacingAndGlyphs" >PRECIPITACIO</text>
<text x="310.8" y="34.75" font-size="16.7" textLength="12.7" lengthAdjust="spacingAndGlyphs" >&gt;</text>
<text x="334.2" y="34.75" font-size="16.7" textLength="20.8" lengthAdjust="spacingAndGlyphs" >10</text>
<text x="365.4" y="34.75" font-size="16.7" textLength="31.0" lengthAdjust="spacingAndGlyphs" >mm</text>
<text x="408.3" y="34.75" font-size="16.7" textLength="26.2" lengthAdjust="spacingAndGlyphs" >(en</text>
<text x="445.2" y="34.75" font-size="16.7" textLength="20.8" lengthAdjust="spacingAndGlyphs" >%)</text>
</g>
<g stroke="#fff" stroke-width="0.12"><text x="66.2" y="65.4" font-size="21.2" textLength="74.1" lengthAdjust="spacingAndGlyphs" >Dilluns</text>
<text x="196.0" y="65.4" font-size="21.2" textLength="140.7" lengthAdjust="spacingAndGlyphs" >03.nov.2025</text>
<text x="352.5" y="65.4" font-size="21.2" textLength="88.3" lengthAdjust="spacingAndGlyphs" >18–24h</text>
<text x="455.1" y="65.4" font-size="21.2" textLength="41.8" lengthAdjust="spacingAndGlyphs" >UTC</text>
</g>
<text x="152.8" y="563.9" font-size="14.9" textLength="44.8" lengthAdjust="spacingAndGlyphs" stroke="#000" stroke-width="0.35">model</text>
<text x="205.0" y="563.9" font-size="14.9" textLength="29.5" lengthAdjust="spacingAndGlyphs" stroke="#000" stroke-width="0.35">GFS</text>
<text x="241.6" y="563.9" font-size="14.9" textLength="33.0" lengthAdjust="spacingAndGlyphs" stroke="#000" stroke-width="0.35">0.25</text>
<text x="284.3" y="563.9" font-size="14.9" textLength="43.1" lengthAdjust="spacingAndGlyphs" stroke="#000" stroke-width="0.35">iniciat</text>
<text x="336.5" y="563.9" font-size="14.9" textLength="8.0" lengthAdjust="spacingAndGlyphs" stroke="#000" stroke-width="0.35">a</text>
<text x="354.4" y="563.9" font-size="14.9" textLength="19.4" lengthAdjust="spacingAndGlyphs" stroke="#000" stroke-width="0.35">les</text>
<text x="383.7" y="563.9" font-size="14.9" textLength="16.2" lengthAdjust="spacingAndGlyphs" stroke="#000" stroke-width="0.35">12</text>
<text x="409.8" y="563.9" font-size="14.9" textLength="28.1" lengthAdjust="spacingAndGlyphs" stroke="#000" stroke-width="0.35">UTC</text>
<text x="446.7" y="563.9" font-size="14.9" textLength="19.8" lengthAdjust="spacingAndGlyphs" stroke="#000" stroke-width="0.35">del</text>
<text x="475.6" y="563.9" font-size="14.9" textLength="19.2" lengthAdjust="spacingAndGlyphs" stroke="#000" stroke-width="0.35">30</text>
<text x="503.3" y="563.9" font-size="14.9" textLength="23.1" lengthAdjust="spacingAndGlyphs" stroke="#000" stroke-width="0.35">oct</text>
<text x="535.0" y="563.9" font-size="14.9" textLength="36.8" lengthAdjust="spacingAndGlyphs" stroke="#000" stroke-width="0.35">2025</text>

<text x="95.3" y="99.4" style="font-family:'Liberation Serif',serif;font-weight:bold;fill:#0b5c96;stroke:#0b5c96;stroke-width:0.55" font-size="26.5" textLength="84.8" lengthAdjust="spacingAndGlyphs">ara.cat</text>

</svg>
</body></html>
